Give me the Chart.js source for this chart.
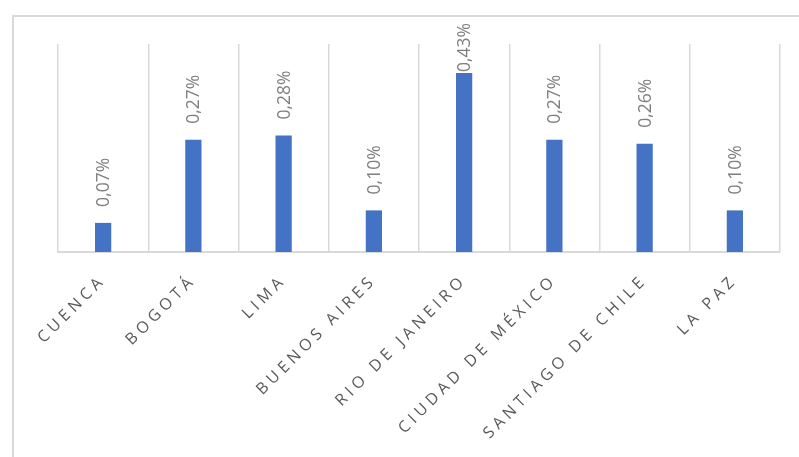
<!DOCTYPE html>
<html>
<head>
<meta charset="utf-8">
<script src="https://cdn.jsdelivr.net/npm/chart.js@4.4.1/dist/chart.umd.min.js"></script>
<style>
  body { margin: 0; background: #fff; }
  #wrap { position: relative; width: 799px; height: 457px; overflow: hidden; }
  #frame { position: absolute; left: 12px; top: 15px; width: 800px; height: 460px;
           border: 2px solid #d9d9d9; box-sizing: border-box; }
  #chart { position: absolute; left: 0; top: 0; }
</style>
</head>
<body>
<div id="wrap">
  <div id="frame"></div>
  <canvas id="chart" width="799" height="457"></canvas>
</div>
<script>
// data
const cities = ["CUENCA", "BOGOTÁ", "LIMA", "BUENOS AIRES", "RIO DE JANEIRO", "CIUDAD DE MÉXICO", "SANTIAGO DE CHILE", "LA PAZ"];
const shares = [0.07, 0.27, 0.28, 0.10, 0.43, 0.27, 0.26, 0.10];
const yMin = 0;
const yMax = 0.5;

// spaced-out category labels (canvas letterSpacing)
const spacing = {
    id: "spacing",
    beforeDraw(chart) { chart.ctx.letterSpacing = "4.3px"; },
    afterDraw(chart) { chart.ctx.letterSpacing = "0px"; }
};

// rotated value labels above each bar
const barLabels = {
    id: "barLabels",
    afterDatasetsDraw(chart) {
        const ctx = chart.ctx;
        const meta = chart.getDatasetMeta(0);
        ctx.save();
        ctx.letterSpacing = "0px";
        ctx.font = '17.5px "Open Sans"';
        ctx.fillStyle = "#7f7f7f";
        ctx.textAlign = "left";
        ctx.textBaseline = "middle";
        meta.data.forEach((bar, i) => {
            const txt = shares[i].toFixed(2).replace(".", ",") + "%";
            const w = ctx.measureText(txt).width;
            let start = bar.y - 16;
            const minTop = chart.chartArea.top - 21;
            if (start - w < minTop) start = minTop + w;
            ctx.save();
            ctx.translate(bar.x + 1, start);
            ctx.rotate(-Math.PI / 2);
            ctx.fillText(txt, 0, 0);
            ctx.restore();
        });
        ctx.restore();
    }
};

let chartCanvas = document.getElementById("chart");

let barChart = new Chart(chartCanvas, {
    type: "bar",
    data: {
        labels: cities,
        datasets: [{
            data: shares,
            backgroundColor: "#4472c4",
            barPercentage: 0.18,
            categoryPercentage: 1
        }]
    },
    options: {
        responsive: false,
        animation: false,
        layout: {
            padding: { left: 58, right: 19, top: 44, bottom: 0 }
        },
        scales: {
            x: {
                grid: { color: "#d9d9d9", lineWidth: 1.5, drawTicks: false, offset: true },
                border: { color: "#d9d9d9", width: 2 },
                ticks: {
                    color: "#595959",
                    font: { family: "Open Sans", size: 16 },
                    minRotation: 45,
                    maxRotation: 45,
                    autoSkip: false,
                    padding: 19
                },
                afterFit: s => { s.height = 205; }
            },
            y: { display: false, min: yMin, max: yMax }
        },
        plugins: {
            legend: { display: false },
            tooltip: { enabled: false }
        }
    },
    plugins: [spacing, barLabels]
});
</script>
</body>
</html>
